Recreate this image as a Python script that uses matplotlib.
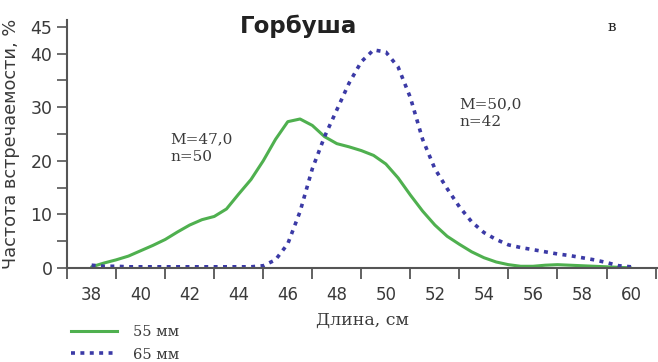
import matplotlib
matplotlib.use('Agg')
import matplotlib.pyplot as plt
from matplotlib.lines import Line2D
import numpy as np

# length, cm (half-cm steps), frequency %
x_len = np.arange(38.0, 60.01, 0.5)

freq_55 = [0.2, 0.9, 1.5, 2.2, 3.2, 4.2, 5.3, 6.7, 8.0, 9.0,
           9.6, 11.0, 13.8, 16.5, 20.0, 24.0, 27.3, 27.8, 26.6, 24.5,
           23.2, 22.6, 21.9, 21.0, 19.4, 16.8, 13.6, 10.6, 8.0, 5.9,
           4.4, 3.0, 1.9, 1.1, 0.6, 0.3, 0.3, 0.5, 0.6, 0.5,
           0.4, 0.3, 0.2, 0.1, 0.0]

freq_65 = [0.5, 0.3, 0.3, 0.2, 0.2, 0.2, 0.2, 0.2, 0.2, 0.2,
           0.2, 0.2, 0.2, 0.2, 0.4, 1.5, 4.5, 10.5, 18.5, 24.5,
           29.5, 34.5, 38.5, 40.7, 40.3, 37.5, 31.8, 24.0, 18.5, 14.8,
           11.4, 8.6, 6.6, 5.3, 4.3, 3.8, 3.4, 3.0, 2.6, 2.3,
           1.9, 1.5, 1.0, 0.4, 0.2]

x_labels = list(range(38, 61, 2))
x_ticks = list(range(37, 62, 2))
y_labels = [0, 10, 20, 30, 40, 45]
y_minor = [5, 15, 25, 35]

green = '#4fb04f'
blue = '#3b3aa6'
serif = 'DejaVu Serif'
txt = '#3a3a3a'

fig = plt.figure(figsize=(6.58, 3.62), dpi=100)
ax = fig.add_axes([0.102, 0.26, 0.898, 0.685])

ax.plot(x_len, freq_55, color=green, lw=2.2, solid_capstyle='round')
ax.plot(x_len, freq_65, color=blue, lw=2.6, linestyle=(0, (1.1, 1.5)))

ax.set_xlim(37, 61.1)
ax.set_ylim(0, 46.3)

for s in ['top', 'right']:
    ax.spines[s].set_visible(False)
for s in ['left', 'bottom']:
    ax.spines[s].set_color('#555555')
    ax.spines[s].set_linewidth(1.5)

# x ticks sit between the labels
ax.set_xticks(x_ticks)
ax.set_xticklabels([])
ax.set_xticks(x_labels, minor=True)
ax.set_xticklabels([str(v) for v in x_labels], minor=True)
ax.tick_params(axis='x', which='major', direction='out', length=8, width=1.3, color='#555555')
ax.tick_params(axis='x', which='minor', length=0, pad=13, labelsize=12, labelcolor=txt)

ax.set_yticks(y_labels)
ax.set_yticklabels([str(v) for v in y_labels])
ax.set_yticks(y_minor, minor=True)
ax.tick_params(axis='y', which='both', direction='out', length=7, width=1.2, color='#555555',
               labelsize=12.5, labelcolor=txt)

ax.set_ylabel('Частота встречаемости, %', fontsize=12.8, color=txt)
ax.yaxis.set_label_coords(-0.08, 0.5)
ax.set_xlabel('Длина, см', fontsize=12.5, family=serif, color=txt, labelpad=6)

fig.text(0.453, 0.928, 'Горбуша', fontsize=16.5, fontweight='bold', ha='center', va='center',
         color='#222222')
fig.text(0.93, 0.925, 'в', fontsize=11, family=serif, ha='center', va='center', color='#222222')

ax.text(41.2, 25.4, 'M=47,0\nn=50', fontsize=11, family=serif, color=txt,
        linespacing=1.4, va='top')
ax.text(53.0, 31.9, 'M=50,0\nn=42', fontsize=11, family=serif, color=txt,
        linespacing=1.4, va='top')

h1 = Line2D([0], [0], color=green, lw=2.2)
h2 = Line2D([0], [0], color=blue, lw=2.6, linestyle=(0, (1.1, 1.5)))
fig.legend([h1, h2], ['55 мм', '65 мм'], loc='lower left', bbox_to_anchor=(0.088, -0.035),
           frameon=False, prop={'family': serif, 'size': 10.5}, handlelength=3.15,
           labelspacing=0.6, handletextpad=1.1, labelcolor=txt)

fig.savefig('out.png', dpi=100)
